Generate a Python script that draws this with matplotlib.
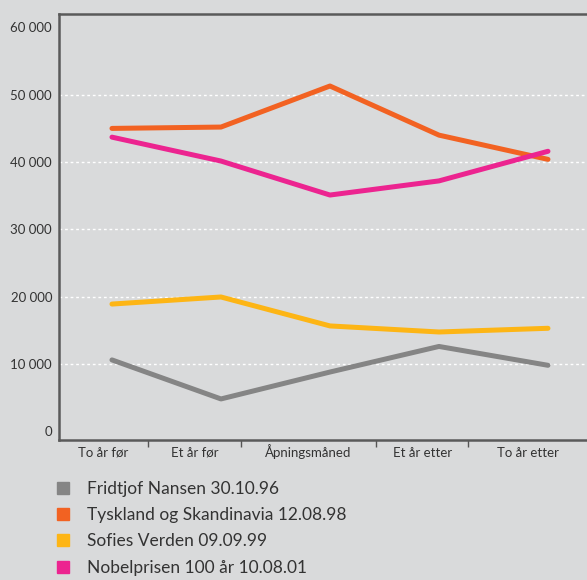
import matplotlib.pyplot as plt
from matplotlib.lines import Line2D
from matplotlib.ticker import FixedLocator, NullFormatter

# visitors per period around each opening
periods = ["To år før", "Et år før", "Åpningsmåned", "Et år etter", "To år etter"]
nansen = [10600, 4800, 8800, 12600, 9800]
tyskland = [45000, 45200, 51300, 44000, 40400]
sofie = [18900, 19950, 15650, 14750, 15300]
nobel = [43700, 40150, 35100, 37200, 41600]

names = ["Fridtjof Nansen 30.10.96", "Tyskland og Skandinavia 12.08.98",
         "Sofies Verden 09.09.99", "Nobelprisen 100 år 10.08.01"]
colors = ["#858585", "#f26222", "#fdb515", "#ec2490"]

bg = "#d9dadb"
plt.rcParams['font.family'] = ['Lato', 'DejaVu Sans']

fig = plt.figure(figsize=(5.87, 5.80), dpi=100, facecolor=bg)
ax = fig.add_axes([59 / 587, 1 - 440 / 580, 1 - 59 / 587, 426 / 580])
ax.set_facecolor(bg)

x = list(range(len(periods)))
for series, c in zip([nansen, tyskland, sofie, nobel], colors):
    ax.plot(x, series, color=c, lw=3.6, solid_capstyle='round', zorder=3)

ax.set_xlim(-0.486, 4.358)
ax.set_ylim(-1300, 62000)

# separators between the periods, labels in between
seps = [-0.486, 0.33, 1.18, 2.42, 3.27, 4.358]
ax.xaxis.set_major_locator(FixedLocator(seps[1:-1]))
ax.xaxis.set_major_formatter(NullFormatter())
mids = [(a + b) / 2 for a, b in zip(seps[:-1], seps[1:])]
ax.xaxis.set_minor_locator(FixedLocator(mids))
ax.set_xticklabels(periods, minor=True)
ax.tick_params(axis='x', which='major', length=5, width=1, color='#555555', direction='out')
ax.tick_params(axis='x', which='minor', length=0, pad=12, labelsize=9.5, labelcolor='#333333')
for lbl in ax.get_xticklabels(minor=True):
    lbl.set_va('baseline')

yt = list(range(0, 60001, 10000))
ax.set_yticks(yt)
ax.set_yticklabels([f"{v:,}".replace(",", " ") for v in yt])
ax.tick_params(axis='y', length=0, pad=5, labelsize=9.5, labelcolor='#333333')

for v in yt[1:-1]:
    ax.axhline(v, color='white', lw=1, ls=(0, (2, 2)), zorder=1)

for s in ['left', 'top', 'bottom']:
    ax.spines[s].set_color('#5a5a5a')
    ax.spines[s].set_linewidth(1.8)
ax.spines['right'].set_visible(False)

handles = [Line2D([], [], ls='none', marker='s', markersize=8, color=c) for c in colors]
fig.legend(handles, names, loc='upper left', bbox_to_anchor=(56 / 587, 1 - 481 / 580),
           frameon=False, fontsize=12.5, borderpad=0, borderaxespad=0,
           handlelength=0.8, labelspacing=0.59, handletextpad=1.0,
           labelcolor='#333333')

fig.savefig("out.png", dpi=100, facecolor=bg)
